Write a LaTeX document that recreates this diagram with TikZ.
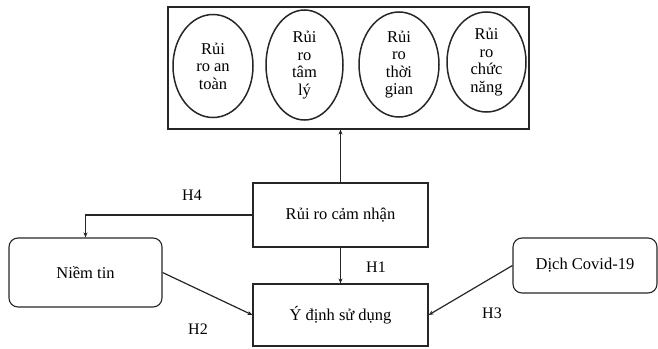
\documentclass[tikz,border=0pt]{standalone}
\usepackage{fontspec}
\setmainfont{Liberation Serif}
\usetikzlibrary{shapes.geometric,arrows.meta}

\tikzset{
	box/.style={draw=black!85, line width=1.1pt, rectangle, inner sep=0pt},
	roundbox/.style={box, rounded corners=9pt},
	oval/.style={draw=black!85, line width=1.5pt, ellipse, inner sep=0pt, align=center, font=\fontsize{16.5}{17.5}\selectfont},
	hyp/.style={font=\fontsize{16}{18}\selectfont},
	arr/.style={draw=black!85, line width=1.2pt, -{Stealth[length=5pt,width=4pt]}}
}

\begin{document}
\begin{tikzpicture}
	\pgfsetxvec{\pgfpoint{1pt}{0pt}}
	\pgfsetyvec{\pgfpoint{0pt}{-1pt}}
	\useasboundingbox (0,0) rectangle (658,348);
	\fontsize{16.5}{19}\selectfont

	% risk components
	\node[box, minimum width=361pt, minimum height=122pt] at (348.5,68) (group) {};
	\node[oval, minimum width=80pt, minimum height=103pt] at (213,66) (antoan) {Rủi\\ro an\\toàn};
	\node[oval, minimum width=77pt, minimum height=110pt] at (304.5,65) (tamly) {Rủi\\ro\\tâm\\lý};
	\node[oval, minimum width=80pt, minimum height=105pt] at (399,64.5) (thoigian) {Rủi\\ro\\thời\\gian};
	\node[oval, minimum width=79pt, minimum height=100pt] at (486.5,62) (chucnang) {Rủi\\ro\\chức\\năng};

	% constructs
	\node[box, minimum width=175pt, minimum height=64pt] at (340.5,215) (camnhan) {Rủi ro cảm nhận};
	\node[box, minimum width=175pt, minimum height=62pt] at (340.5,315) (ydinh) {Ý định sử dụng};
	\node[roundbox, minimum width=153pt, minimum height=69pt] at (85.5,272.5) (niemtin) {Niềm tin};
	\node[roundbox, minimum width=144pt, minimum height=55pt] at (585,265.5) (covid) {Dịch Covid-19};

	% hypotheses
	\node[hyp] at (192,195) (h4) {H4};
	\node[hyp] at (376,267) (h1) {H1};
	\node[hyp] at (198,329) (h2) {H2};
	\node[hyp] at (492,313) (h3) {H3};

	\path[arr] (camnhan.north) -- (camnhan.north |- group.south);
	\path[arr] (camnhan.west) -| (niemtin.north);
	\path[arr] (camnhan.south) -- (ydinh.north);
	\path[arr] (niemtin.east) -- (ydinh.west);
	\path[arr] (covid.west) -- (ydinh.east);

\end{tikzpicture}
\end{document}
